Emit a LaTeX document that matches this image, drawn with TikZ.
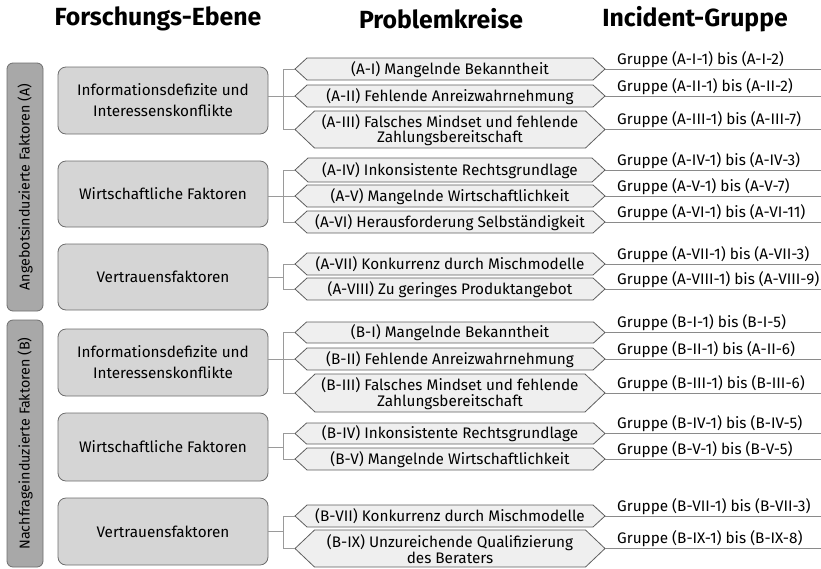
\documentclass[tikz,border=0pt]{standalone}
\usepackage{fontspec}
\setmainfont{Fira Sans}
\definecolor{sidefill}{HTML}{A8A8A8}
\definecolor{sideborder}{HTML}{6E6E6E}
\definecolor{mainfill}{HTML}{D5D5D5}
\definecolor{mainborder}{HTML}{6E6E6E}
\definecolor{probfill}{HTML}{EFEFEF}
\definecolor{probborder}{HTML}{5E5E5E}
\definecolor{conncol}{HTML}{9A9A9A}
\definecolor{inccol}{HTML}{8A8A8A}
\newcommand\probshape[5]{% name, top, bottom, text
  \pgfmathsetmacro\ymid{(#2+#3)/2}%
  \pgfmathsetmacro\dd{(#3-#2)/2+1}%
  \draw[probshape] (295,\ymid) -- (295+\dd,#2) -- (605-\dd,#2) -- (605,\ymid) -- (605-\dd,#3) -- (295+\dd,#3) -- cycle;
  \node[probtext] (#1) at (450,\ymid+0.5) {#4};
  \coordinate (#1w) at (295,\ymid);
  \coordinate (#1e) at (605,\ymid);
  \draw[incl] (#1e) -- (#1e -| xr);
  \node[grp] (#1g) at (617,\ymid-5) {#5};
}
\begin{document}
\begin{tikzpicture}[x=1pt,y=-1pt,
  title/.style={font=\fontsize{24.8}{28}\selectfont\bfseries, inner sep=0},
  side/.style={draw=sideborder, fill=sidefill, rounded corners=6pt, line width=0.8pt, font=\fontsize{14.3}{16}\selectfont, inner sep=0},
  mainbox/.style={draw=mainborder, fill=mainfill, rounded corners=8pt, line width=0.8pt, align=center, font=\fontsize{15.3}{21}\selectfont, minimum width=210pt, inner sep=0},
  probshape/.style={draw=probborder, fill=probfill, line width=0.8pt},
  probtext/.style={align=center, font=\fontsize{15.3}{15.5}\selectfont, inner sep=0},
  grp/.style={anchor=base west, font=\fontsize{15.3}{16}\selectfont, inner sep=0},
  conn/.style={draw=conncol, line width=0.8pt},
  incl/.style={draw=inccol, line width=0.9pt}]
\useasboundingbox (0,0) rectangle (821,568);
\coordinate (xb) at (283,0);
\coordinate (xr) at (821,0);

% titles
\node[title] (t1) at (158,19) {Forschungs-Ebene};
\node[title] (t2) at (441,19) {Problemkreise};
\node[title] (t3) at (695,19) {Incident-Gruppe};

% side boxes
\node[side, rotate=90, minimum width=248pt, minimum height=36pt] (sA) at (25,187) {Angebotsinduzierte Faktoren (A)};
\node[side, rotate=90, minimum width=247pt, minimum height=36pt] (sB) at (25,443.5) {Nachfrageinduzierte Faktoren (B)};

% main boxes
\node[mainbox, minimum height=67pt] (m1) at (163,100.5) {Informationsdefizite und\\Interessenskonflikte};
\node[mainbox, minimum height=66pt] (m2) at (163,194) {Wirtschaftliche Faktoren};
\node[mainbox, minimum height=66pt] (m3) at (163,277) {Vertrauensfaktoren};
\node[mainbox, minimum height=67pt] (m4) at (163,362.5) {Informationsdefizite und\\Interessenskonflikte};
\node[mainbox, minimum height=68pt] (m5) at (163,447) {Wirtschaftliche Faktoren};
\node[mainbox, minimum height=67pt] (m6) at (163,531.5) {Vertrauensfaktoren};

% problems
\probshape{AI}{58}{80}{(A-I) Mangelnde Bekanntheit}{Gruppe (A-I-1) bis (A-I-2)}
\probshape{AII}{85}{107}{(A-II) Fehlende Anreizwahrnehmung}{Gruppe (A-II-1) bis (A-II-2)}
\probshape{AIII}{111}{148}{(A-III) Falsches Mindset und fehlende\\Zahlungsbereitschaft}{Gruppe (A-III-1) bis (A-III-7)}
\probshape{AIV}{158}{182}{(A-IV) Inkonsistente Rechtsgrundlage}{Gruppe (A-IV-1) bis (A-IV-3)}
\probshape{AV}{185}{207}{(A-V) Mangelnde Wirtschaftlichkeit}{Gruppe (A-V-1) bis (A-V-7)}
\probshape{AVI}{211}{233}{(A-VI) Herausforderung Selbständigkeit}{Gruppe (A-VI-1) bis (A-VI-11)}
\probshape{AVII}{253}{275}{(A-VII) Konkurrenz durch Mischmodelle}{Gruppe (A-VII-1) bis (A-VII-3)}
\probshape{AVIII}{278}{300}{(A-VIII) Zu geringes Produktangebot}{Gruppe (A-VIII-1) bis (A-VIII-9)}
\probshape{BI}{322}{343}{(B-I) Mangelnde Bekanntheit}{Gruppe (B-I-1) bis (B-I-5)}
\probshape{BII}{348}{370}{(B-II) Fehlende Anreizwahrnehmung}{Gruppe (B-II-1) bis (A-II-6)}
\probshape{BIII}{374}{412}{(B-III) Falsches Mindset und fehlende\\Zahlungsbereitschaft}{Gruppe (B-III-1) bis (B-III-6)}
\probshape{BIV}{423}{444}{(B-IV) Inkonsistente Rechtsgrundlage}{Gruppe (B-IV-1) bis (B-IV-5)}
\probshape{BV}{448}{470}{(B-V) Mangelnde Wirtschaftlichkeit}{Gruppe (B-V-1) bis (B-V-5)}
\probshape{BVII}{505}{527}{(B-VII) Konkurrenz durch Mischmodelle}{Gruppe (B-VII-1) bis (B-VII-3)}
\probshape{BIX}{530}{567}{(B-IX) Unzureichende Qualifizierung\\des Beraters}{Gruppe (B-IX-1) bis (B-IX-8)}

% brackets
\draw[conn] (AIw) -| (xb |- AIIIw) -- (AIIIw);
\draw[conn] (m1.east |- AIIw) -- (AIIw);
\draw[conn] (AIVw) -| (xb |- AVIw) -- (AVIw);
\draw[conn] (m2.east |- AVw) -- (AVw);
\draw[conn] (AVIIw) -| (xb |- AVIIIw) -- (AVIIIw);
\draw[conn] (m3.east) -- (m3.east -| xb);
\draw[conn] (BIw) -| (xb |- BIIIw) -- (BIIIw);
\draw[conn] (m4.east |- BIIw) -- (BIIw);
\draw[conn] (BIVw) -| (xb |- BVw) -- (BVw);
\draw[conn] (m5.east) -- (m5.east -| xb);
\draw[conn] (BVIIw) -| (xb |- BIXw) -- (BIXw);
\draw[conn] (m6.east) -- (m6.east -| xb);
\end{tikzpicture}
\end{document}
